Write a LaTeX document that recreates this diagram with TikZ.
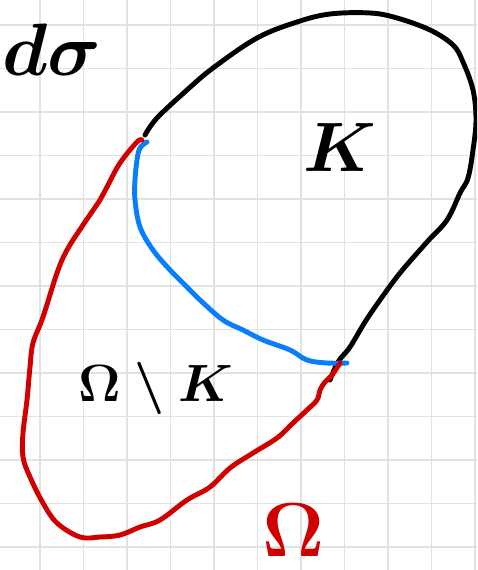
\documentclass[tikz,border=0pt]{standalone}
\usetikzlibrary{positioning}
\definecolor{gris}{RGB}{226,226,226}
\definecolor{rojo}{RGB}{208,0,0}
\definecolor{azul}{RGB}{10,125,250}
\newcommand{\rotulo}[2]{\scalebox{#1}{$#2$}}

\begin{document}
\begin{tikzpicture}[x=0.02cm, y=-0.02cm,
      rejilla/.style={draw=gris, line width=0.6pt},
      trazo/.style={line width=2.8pt, line cap=round, line join=round},
      etiqueta/.style={inner sep=0pt, font=\Huge\boldmath}
    ]
      \useasboundingbox (0,0) rectangle (477,570);
      \clip (0,0) rectangle (477,570);
      \fill[white] (0,0) rectangle (477,570);
      \foreach \i in {0,...,10} \draw[rejilla] ({40+43.5*\i},0) -- ({40+43.5*\i},570);
      \foreach \j in {0,...,12} \draw[rejilla] (0,{25+43.5*\j}) -- (477,{25+43.5*\j});

      \draw[trazo] plot[smooth, tension=0.6] coordinates {(145,135) (157,118) (187,90) (213,68) (257,38)
        (297,22) (330,14) (370,13) (397,18) (430,30) (453,45) (463,62) (473,90) (476,120) (473,150)
        (468,178) (460,193) (447,220) (427,242) (400,273) (380,300) (365,322) (350,347) (338,362) (330,380)};
      \draw[trazo, azul] plot[smooth, tension=0.6] coordinates {(147,142) (140,148) (137,160) (135,180)
        (135,200) (140,227) (153,250) (170,270) (183,283) (200,300) (223,320) (243,330) (263,340)
        (290,350) (307,360) (327,363) (347,363)};
      \draw[trazo, rojo] plot[smooth, tension=0.6] coordinates {(142,140) (137,142) (120,163) (107,187)
        (100,200) (83,225) (67,250) (57,273) (43,317) (33,343) (30,367) (27,400) (23,433) (23,457)
        (30,477) (43,503) (57,523) (80,537) (100,537) (120,535) (140,527) (160,520) (187,500)
        (210,487) (230,468) (253,453) (277,438) (293,423) (307,410) (317,400) (320,390) (325,382)
        (332,375) (340,363)};

      \node[etiqueta] (k) at (340,148) {\rotulo{1.6}{K}};
      \node[etiqueta] (resto) at (156,388) {\rotulo{1.2}{\Omega\setminus K}};
      \node[etiqueta, text=rojo] (omega) at (294,530) {\rotulo{1.75}{\Omega}};
      \node[etiqueta, anchor=base west] (dsigma) at (2,76) {\rotulo{1.7}{d\sigma}};
    \end{tikzpicture}
\end{document}
